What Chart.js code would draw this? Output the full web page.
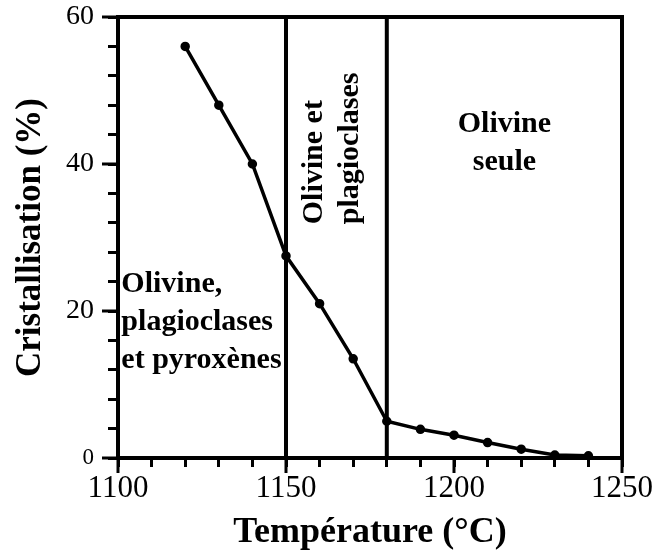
<!DOCTYPE html>
<html>
<head>
<meta charset="utf-8">
<script src="https://cdn.jsdelivr.net/npm/chart.js@4"></script>
<style>
  html, body { margin: 0; padding: 0; background: #fff; }
  #wrap { width: 666px; height: 552px; }
</style>
</head>
<body>
<div id="wrap"><canvas id="chart" width="666" height="552"></canvas></div>
<script>
// temperature (°C) and cristallisation (%)
let temperatures = [1120, 1130, 1140, 1150, 1160, 1170, 1180, 1190, 1200, 1210, 1220, 1230, 1240];
let cristallisation = [56, 48, 40, 27.5, 21, 13.5, 5, 3.9, 3.1, 2.1, 1.2, 0.4, 0.3];

// phase boundaries and axis ticks
let boundaries = [1150, 1180];
let xMajorTicks = [1100, 1150, 1200, 1250];
let yMajorTicks = [0, 20, 40, 60];

// zone labels: text lines, anchor temperature, anchor cristallisation
let zoneAligned = [
  { lines: ["Olivine,", "plagioclases", "et pyroxènes"], x: 1101, y: 22.6 },
  { lines: ["Olivine", "seule"], x: 1215, y: 44.3 }
];
let zoneRotated = { lines: ["Olivine et", "plagioclases"], x: 1165, y: 31.8 };

const serif = "'Liberation Serif', 'Times New Roman', serif";

let points = temperatures.map((t, i) => ({ x: t, y: cristallisation[i] }));

const framePlugin = {
  id: "frame",
  afterDraw(chart) {
    let ctx = chart.ctx;
    let area = chart.chartArea;
    let xs = chart.scales.x;
    let ys = chart.scales.y;
    ctx.save();
    ctx.strokeStyle = "#000";

    // phase boundary lines
    ctx.lineWidth = 4;
    boundaries.forEach((b) => {
      let px = xs.getPixelForValue(b);
      ctx.beginPath();
      ctx.moveTo(px, area.top);
      ctx.lineTo(px, area.bottom);
      ctx.stroke();
    });

    // full box
    ctx.strokeRect(area.left, area.top, area.right - area.left, area.bottom - area.top);

    // longer major ticks
    ctx.lineWidth = 3;
    xMajorTicks.forEach((v) => {
      let px = xs.getPixelForValue(v);
      ctx.beginPath();
      ctx.moveTo(px, area.bottom);
      ctx.lineTo(px, area.bottom + 15);
      ctx.stroke();
    });
    yMajorTicks.forEach((v) => {
      let py = ys.getPixelForValue(v);
      ctx.beginPath();
      ctx.moveTo(area.left, py);
      ctx.lineTo(area.left - 16, py);
      ctx.stroke();
    });

    // zone labels
    ctx.fillStyle = "#000";
    ctx.font = "bold 30px " + serif;
    ctx.textBaseline = "alphabetic";
    zoneAligned.forEach((z, k) => {
      let px = xs.getPixelForValue(z.x);
      let py = ys.getPixelForValue(z.y);
      ctx.textAlign = k === 0 ? "left" : "center";
      z.lines.forEach((line, i) => {
        ctx.fillText(line, px, py + i * 38);
      });
    });

    let rx = xs.getPixelForValue(zoneRotated.x);
    let ry = ys.getPixelForValue(zoneRotated.y);
    ctx.translate(rx, ry);
    ctx.rotate(-Math.PI / 2);
    ctx.textAlign = "left";
    zoneRotated.lines.forEach((line, i) => {
      ctx.fillText(line, 0, -14 + i * 36);
    });
    ctx.restore();
  }
};

new Chart(document.getElementById("chart"), {
  type: "scatter",
  data: {
    datasets: [
      {
        data: points,
        showLine: true,
        borderColor: "#000",
        backgroundColor: "#000",
        borderWidth: 3.5,
        pointRadius: 3,
        pointHoverRadius: 3,
        tension: 0
      }
    ]
  },
  options: {
    responsive: false,
    animation: false,
    layout: { padding: { top: 17, right: 44, left: 0, bottom: 0 } },
    plugins: {
      legend: { display: false },
      tooltip: { enabled: false }
    },
    scales: {
      x: {
        type: "linear",
        min: 1100,
        max: 1250,
        afterFit: (scale) => {
          scale.height = 94;
          scale.paddingLeft = 0;
          scale.paddingRight = 0;
        },
        ticks: {
          stepSize: 10,
          color: "#000",
          padding: 3,
          maxRotation: 0,
          autoSkip: false,
          font: { family: serif, size: 31 },
          callback: (v) => (v % 50 === 0 ? String(v) : "")
        },
        grid: {
          drawOnChartArea: false,
          tickLength: 9,
          tickWidth: 3,
          tickColor: "#000"
        },
        border: { display: true, color: "#000", width: 4 },
        title: {
          display: true,
          text: "Température (°C)",
          color: "#000",
          font: { family: serif, size: 36, weight: "bold" },
          padding: { top: 0, bottom: -2 }
        }
      },
      y: {
        type: "linear",
        min: 0,
        max: 60,
        afterFit: (scale) => {
          scale.width = 118;
          scale.paddingTop = 0;
          scale.paddingBottom = 0;
        },
        ticks: {
          stepSize: 4,
          color: "#000",
          padding: 14,
          autoSkip: false,
          font: (c) => ({ family: serif, size: c.tick && c.tick.value === 0 ? 23 : 28 }),
          callback: (v) => (v % 20 === 0 ? String(v) : "")
        },
        grid: {
          drawOnChartArea: false,
          tickLength: 10,
          tickWidth: 3,
          tickColor: "#000"
        },
        border: { display: true, color: "#000", width: 4 },
        title: {
          display: true,
          text: "Cristallisation (%)",
          color: "#000",
          font: { family: serif, size: 35, weight: "bold" },
          padding: { top: 10, bottom: 0 }
        }
      }
    }
  },
  plugins: [framePlugin]
});
</script>
</body>
</html>
